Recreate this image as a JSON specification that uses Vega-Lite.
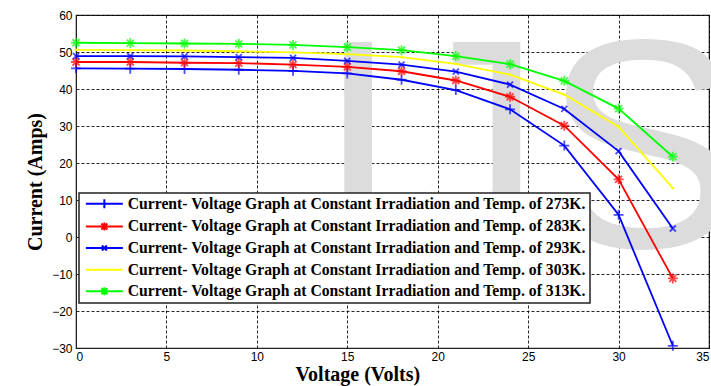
{
  "$schema": "https://vega.github.io/schema/vega-lite/v6.json",
  "width": 633,
  "height": 333,
  "autosize": {"type": "none"},
  "padding": {"left": 76, "top": 15, "right": 2, "bottom": 38},
  "background": "white",
  "config": {
    "view": {"stroke": "#222", "strokeWidth": 1.2},
    "axis": {
      "grid": true,
      "gridColor": "#000",
      "gridDash": [3, 2],
      "gridOpacity": 0.85,
      "gridWidth": 1,
      "ticks": false,
      "labelOverlap": false,
      "domainColor": "#222",
      "labelFont": "Liberation Sans Narrow, Arial Narrow, Liberation Sans",
      "labelFontSize": 12,
      "labelColor": "#000",
      "titleFont": "Liberation Serif",
      "titleFontWeight": "bold",
      "titleFontSize": 20,
      "titleColor": "#000"
    }
  },
  "datasets": {
    "iv": [
      {"series": "Current- Voltage Graph at Constant Irradiation and Temp. of 273K.", "voltage": 0, "current": 45.6},
      {"series": "Current- Voltage Graph at Constant Irradiation and Temp. of 273K.", "voltage": 3, "current": 45.5},
      {"series": "Current- Voltage Graph at Constant Irradiation and Temp. of 273K.", "voltage": 6, "current": 45.4},
      {"series": "Current- Voltage Graph at Constant Irradiation and Temp. of 273K.", "voltage": 9, "current": 45.2},
      {"series": "Current- Voltage Graph at Constant Irradiation and Temp. of 273K.", "voltage": 12, "current": 44.9},
      {"series": "Current- Voltage Graph at Constant Irradiation and Temp. of 273K.", "voltage": 15, "current": 44.2},
      {"series": "Current- Voltage Graph at Constant Irradiation and Temp. of 273K.", "voltage": 18, "current": 42.5},
      {"series": "Current- Voltage Graph at Constant Irradiation and Temp. of 273K.", "voltage": 21, "current": 39.7},
      {"series": "Current- Voltage Graph at Constant Irradiation and Temp. of 273K.", "voltage": 24, "current": 34.5},
      {"series": "Current- Voltage Graph at Constant Irradiation and Temp. of 273K.", "voltage": 27, "current": 24.7},
      {"series": "Current- Voltage Graph at Constant Irradiation and Temp. of 273K.", "voltage": 30, "current": 6.0},
      {"series": "Current- Voltage Graph at Constant Irradiation and Temp. of 273K.", "voltage": 33, "current": -29.4},
      {"series": "Current- Voltage Graph at Constant Irradiation and Temp. of 283K.", "voltage": 0, "current": 47.3},
      {"series": "Current- Voltage Graph at Constant Irradiation and Temp. of 283K.", "voltage": 3, "current": 47.3},
      {"series": "Current- Voltage Graph at Constant Irradiation and Temp. of 283K.", "voltage": 6, "current": 47.1},
      {"series": "Current- Voltage Graph at Constant Irradiation and Temp. of 283K.", "voltage": 9, "current": 47.0},
      {"series": "Current- Voltage Graph at Constant Irradiation and Temp. of 283K.", "voltage": 12, "current": 46.6},
      {"series": "Current- Voltage Graph at Constant Irradiation and Temp. of 283K.", "voltage": 15, "current": 46.0},
      {"series": "Current- Voltage Graph at Constant Irradiation and Temp. of 283K.", "voltage": 18, "current": 44.8},
      {"series": "Current- Voltage Graph at Constant Irradiation and Temp. of 283K.", "voltage": 21, "current": 42.3},
      {"series": "Current- Voltage Graph at Constant Irradiation and Temp. of 283K.", "voltage": 24, "current": 37.9},
      {"series": "Current- Voltage Graph at Constant Irradiation and Temp. of 283K.", "voltage": 27, "current": 30.1},
      {"series": "Current- Voltage Graph at Constant Irradiation and Temp. of 283K.", "voltage": 30, "current": 15.6},
      {"series": "Current- Voltage Graph at Constant Irradiation and Temp. of 283K.", "voltage": 33, "current": -11.2},
      {"series": "Current- Voltage Graph at Constant Irradiation and Temp. of 293K.", "voltage": 0, "current": 48.9},
      {"series": "Current- Voltage Graph at Constant Irradiation and Temp. of 293K.", "voltage": 3, "current": 48.9},
      {"series": "Current- Voltage Graph at Constant Irradiation and Temp. of 293K.", "voltage": 6, "current": 48.8},
      {"series": "Current- Voltage Graph at Constant Irradiation and Temp. of 293K.", "voltage": 9, "current": 48.6},
      {"series": "Current- Voltage Graph at Constant Irradiation and Temp. of 293K.", "voltage": 12, "current": 48.4},
      {"series": "Current- Voltage Graph at Constant Irradiation and Temp. of 293K.", "voltage": 15, "current": 47.6},
      {"series": "Current- Voltage Graph at Constant Irradiation and Temp. of 293K.", "voltage": 18, "current": 46.6},
      {"series": "Current- Voltage Graph at Constant Irradiation and Temp. of 293K.", "voltage": 21, "current": 44.7},
      {"series": "Current- Voltage Graph at Constant Irradiation and Temp. of 293K.", "voltage": 24, "current": 41.2},
      {"series": "Current- Voltage Graph at Constant Irradiation and Temp. of 293K.", "voltage": 27, "current": 34.6},
      {"series": "Current- Voltage Graph at Constant Irradiation and Temp. of 293K.", "voltage": 30, "current": 23.2},
      {"series": "Current- Voltage Graph at Constant Irradiation and Temp. of 293K.", "voltage": 33, "current": 2.3},
      {"series": "Current- Voltage Graph at Constant Irradiation and Temp. of 303K.", "voltage": 0, "current": 50.6},
      {"series": "Current- Voltage Graph at Constant Irradiation and Temp. of 303K.", "voltage": 3, "current": 50.5},
      {"series": "Current- Voltage Graph at Constant Irradiation and Temp. of 303K.", "voltage": 6, "current": 50.4},
      {"series": "Current- Voltage Graph at Constant Irradiation and Temp. of 303K.", "voltage": 9, "current": 50.2},
      {"series": "Current- Voltage Graph at Constant Irradiation and Temp. of 303K.", "voltage": 12, "current": 49.9},
      {"series": "Current- Voltage Graph at Constant Irradiation and Temp. of 303K.", "voltage": 15, "current": 49.4},
      {"series": "Current- Voltage Graph at Constant Irradiation and Temp. of 303K.", "voltage": 18, "current": 48.6},
      {"series": "Current- Voltage Graph at Constant Irradiation and Temp. of 303K.", "voltage": 21, "current": 46.8},
      {"series": "Current- Voltage Graph at Constant Irradiation and Temp. of 303K.", "voltage": 24, "current": 43.9},
      {"series": "Current- Voltage Graph at Constant Irradiation and Temp. of 303K.", "voltage": 27, "current": 38.5},
      {"series": "Current- Voltage Graph at Constant Irradiation and Temp. of 303K.", "voltage": 30, "current": 29.8},
      {"series": "Current- Voltage Graph at Constant Irradiation and Temp. of 303K.", "voltage": 33, "current": 13.2},
      {"series": "Current- Voltage Graph at Constant Irradiation and Temp. of 313K.", "voltage": 0, "current": 52.5},
      {"series": "Current- Voltage Graph at Constant Irradiation and Temp. of 313K.", "voltage": 3, "current": 52.4},
      {"series": "Current- Voltage Graph at Constant Irradiation and Temp. of 313K.", "voltage": 6, "current": 52.3},
      {"series": "Current- Voltage Graph at Constant Irradiation and Temp. of 313K.", "voltage": 9, "current": 52.2},
      {"series": "Current- Voltage Graph at Constant Irradiation and Temp. of 313K.", "voltage": 12, "current": 51.9},
      {"series": "Current- Voltage Graph at Constant Irradiation and Temp. of 313K.", "voltage": 15, "current": 51.3},
      {"series": "Current- Voltage Graph at Constant Irradiation and Temp. of 313K.", "voltage": 18, "current": 50.5},
      {"series": "Current- Voltage Graph at Constant Irradiation and Temp. of 313K.", "voltage": 21, "current": 48.9},
      {"series": "Current- Voltage Graph at Constant Irradiation and Temp. of 313K.", "voltage": 24, "current": 46.7},
      {"series": "Current- Voltage Graph at Constant Irradiation and Temp. of 313K.", "voltage": 27, "current": 42.2},
      {"series": "Current- Voltage Graph at Constant Irradiation and Temp. of 313K.", "voltage": 30, "current": 34.7},
      {"series": "Current- Voltage Graph at Constant Irradiation and Temp. of 313K.", "voltage": 33, "current": 21.7}
    ]
  },
  "layer": [
    {
      "data": {"values": [{"letter": "I"}]},
      "mark": {"type": "text", "font": "Liberation Sans", "fontSize": 298, "align": "center", "baseline": "alphabetic", "color": "#dcdcdc"},
      "encoding": {
        "x": {"datum": 15.6, "type": "quantitative", "scale": {"domain": [0, 35], "nice": false},
              "axis": {"values": [0, 5, 10, 15, 20, 25, 30, 35], "tickCount": 8, "title": "Voltage (Volts)", "titlePadding": 2, "labelPadding": 3, "titleAnchor": "start", "titleX": 219}},
        "y": {"datum": -2.7, "type": "quantitative", "scale": {"domain": [-30, 60], "nice": false},
              "axis": {"values": [-30, -20, -10, 0, 10, 20, 30, 40, 50, 60], "tickCount": 10, "title": "Current (Amps)", "labelPadding": 4, "titlePadding": 6}},
        "text": {"field": "letter"}
      }
    },
    {
      "data": {"values": [{"letter": "J"}]},
      "mark": {"type": "text", "font": "Liberation Sans", "fontSize": 298, "align": "left", "baseline": "alphabetic", "color": "#dcdcdc"},
      "encoding": {
        "x": {"datum": 17.55, "type": "quantitative"},
        "y": {"datum": -2.7, "type": "quantitative"},
        "text": {"field": "letter"}
      }
    },
    {
      "data": {"values": [{"letter": "S"}]},
      "mark": {"type": "text", "font": "Liberation Sans", "fontSize": 298, "align": "left", "baseline": "alphabetic", "color": "#dcdcdc"},
      "encoding": {
        "x": {"datum": 25.82, "type": "quantitative"},
        "y": {"datum": -2.7, "type": "quantitative"},
        "text": {"field": "letter"}
      }
    },
    {
      "data": {"name": "iv"},
      "mark": {"type": "line", "strokeWidth": 1.8},
      "encoding": {
        "x": {"field": "voltage", "type": "quantitative"},
        "y": {"field": "current", "type": "quantitative"},
        "color": {
          "field": "series", "type": "nominal",
          "scale": {"range": ["#0000ff", "#ff0000", "#0000ff", "#ffff00", "#00ff00"]},
          "legend": {
            "title": null,
            "orient": "none",
            "legendX": 3,
            "legendY": 178,
            "fillColor": "#ffffff",
            "strokeColor": "#222",
            "padding": 3,
            "labelFont": "Liberation Serif",
            "labelFontWeight": "bold",
            "labelFontSize": 15.7,
            "labelColor": "#000",
            "labelLimit": 600,
            "symbolSize": 100,
            "symbolStrokeWidth": 2,
            "symbolOffset": 14.5,
            "labelOffset": 15.5,
            "rowPadding": 4.6,
            "encode": {
              "legend": {"update": {"strokeWidth": {"value": 1.5}}},
              "symbols": {"update": {"shape": {"signal": "indexof(datum.value, '273K') >= 0 ? 'M-3.7,0H3.7M0,-0.9V0.9' : indexof(datum.value, '293K') >= 0 ? 'M-3.7,0H3.7M-0.5,-0.5L0.5,0.5M-0.5,0.5L0.5,-0.5' : indexof(datum.value, '303K') >= 0 ? 'M-3.7,0H3.7M-0.15,0H0.15' : 'M-3.7,0H3.7M0,-0.8V0.8M-0.6,-0.6L0.6,0.6M-0.6,0.6L0.6,-0.6'"}}}
            }
          }
        }
      }
    },
    {
      "data": {"name": "iv"},
      "mark": {"type": "point", "filled": false, "strokeWidth": 1.8, "size": 100},
      "encoding": {
        "x": {"field": "voltage", "type": "quantitative"},
        "y": {"field": "current", "type": "quantitative"},
        "color": {"field": "series", "type": "nominal", "legend": null},
        "shape": {
          "field": "series", "type": "nominal", "legend": null,
          "scale": {"range": [
            "M-1,0H1M0,-1V1",
            "M-1,0H1M0,-1V1M-0.7,-0.7L0.7,0.7M-0.7,0.7L0.7,-0.7",
            "M-0.6,-0.6L0.6,0.6M-0.6,0.6L0.6,-0.6",
            "M-0.3,0H0.3M0,-0.3V0.3",
            "M-1,0H1M0,-1V1M-0.7,-0.7L0.7,0.7M-0.7,0.7L0.7,-0.7"
          ]}
        }
      }
    }
  ]
}
